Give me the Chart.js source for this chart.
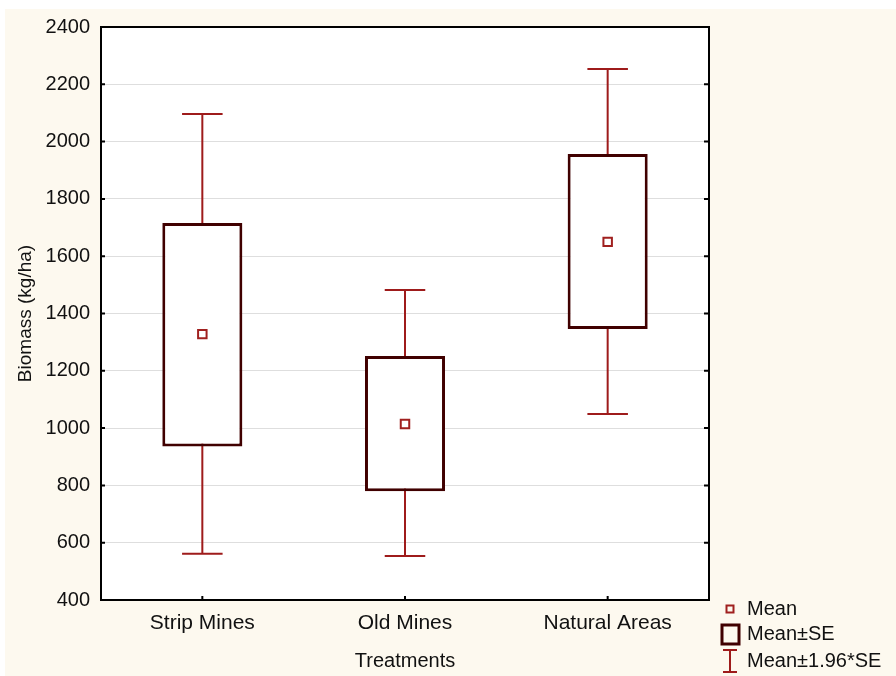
<!DOCTYPE html>
<html>
<head>
<meta charset="utf-8">
<script src="https://cdn.jsdelivr.net/npm/chart.js@4.4.1/dist/chart.umd.min.js"></script>
<style>
  body { margin: 0; background: #fff; }
  #wrap { position: absolute; left: 5px; top: 9px; width: 891px; height: 667px; background: #fdf9ef; }
</style>
</head>
<body>
<div id="wrap"><canvas id="chart"></canvas></div>
<script>
const treatments = ['Strip Mines', 'Old Mines', 'Natural Areas'];
const means = [1328, 1014, 1650];
const seLow = [936, 780, 1346];
const seHigh = [1716, 1252, 1957];
const ciLow = [561, 554, 1049];
const ciHigh = [2096, 1482, 2253];
const yTicks = [400, 600, 800, 1000, 1200, 1400, 1600, 1800, 2000, 2200, 2400];
const legendLabels = ['Mean', 'Mean±SE', 'Mean±1.96*SE'];

const FONT = '"Liberation Sans", Arial, sans-serif';
const boxColor = '#400000';
const whiskerColor = '#9e1b1b';
const meanColor = '#a0201f';

Chart.defaults.font.family = FONT;
Chart.defaults.font.size = 20;
Chart.defaults.color = '#111';

// white plot area, whiskers under the boxes
const whiskers = {
    id: 'whiskers',
    beforeDraw(chart) {
        const {ctx, chartArea: a} = chart;
        ctx.save();
        ctx.fillStyle = '#fff';
        ctx.fillRect(a.left, a.top, a.right - a.left, a.bottom - a.top);
        ctx.restore();
    },
    beforeDatasetsDraw(chart) {
        const {ctx, scales: {x, y}} = chart;
        const half = x.width / treatments.length * 0.1;
        ctx.save();
        ctx.strokeStyle = whiskerColor;
        ctx.lineWidth = 2;
        treatments.forEach((t, i) => {
            const px = x.getPixelForValue(i);
            const top = y.getPixelForValue(ciHigh[i]);
            const bot = y.getPixelForValue(ciLow[i]);
            ctx.beginPath();
            ctx.moveTo(px, top); ctx.lineTo(px, bot);
            ctx.moveTo(px - half, top); ctx.lineTo(px + half, top);
            ctx.moveTo(px - half, bot); ctx.lineTo(px + half, bot);
            ctx.stroke();
        });
        ctx.restore();
    }
};

// frame with inward ticks + legend
const frame = {
    id: 'frame',
    afterDraw(chart) {
        const {ctx, chartArea: a, scales: {x, y}} = chart;
        ctx.save();
        ctx.strokeStyle = '#000';
        ctx.lineWidth = 2;
        ctx.strokeRect(a.left, a.top, a.right - a.left, a.bottom - a.top);
        ctx.beginPath();
        yTicks.forEach(v => {
            const py = y.getPixelForValue(v);
            ctx.moveTo(a.left, py); ctx.lineTo(a.left + 4, py);
            ctx.moveTo(a.right, py); ctx.lineTo(a.right - 5, py);
        });
        treatments.forEach((t, i) => {
            const px = x.getPixelForValue(i);
            ctx.moveTo(px, a.bottom); ctx.lineTo(px, a.bottom - 4);
        });
        ctx.stroke();

        // legend
        const mx = a.right + 21, tx = a.right + 38;
        const rows = [a.bottom + 9, a.bottom + 34, a.bottom + 61];
        ctx.font = '20px ' + FONT;
        ctx.fillStyle = '#111';
        ctx.textBaseline = 'middle';
        legendLabels.forEach((t, i) => ctx.fillText(t, tx, rows[i]));

        ctx.strokeStyle = meanColor;
        ctx.lineWidth = 2;
        ctx.strokeRect(mx - 3.5, rows[0] - 3.5, 7, 7);

        ctx.strokeStyle = boxColor;
        ctx.lineWidth = 3;
        ctx.strokeRect(mx - 8, rows[1] - 9, 17, 19);

        ctx.strokeStyle = whiskerColor;
        ctx.lineWidth = 2;
        ctx.beginPath();
        ctx.moveTo(mx, rows[2] - 11); ctx.lineTo(mx, rows[2] + 11);
        ctx.moveTo(mx - 7, rows[2] - 11); ctx.lineTo(mx + 7, rows[2] - 11);
        ctx.moveTo(mx - 7, rows[2] + 11); ctx.lineTo(mx + 7, rows[2] + 11);
        ctx.stroke();
        ctx.restore();
    }
};

new Chart(document.getElementById('chart'), {
    data: {
        labels: treatments,
        datasets: [{
            type: 'line',
            label: 'Mean',
            data: means,
            showLine: false,
            pointStyle: 'rect',
            pointRadius: 6,
            pointHoverRadius: 6,
            pointBorderWidth: 2,
            pointBorderColor: meanColor,
            pointBackgroundColor: '#fff',
            order: 1
        }, {
            type: 'bar',
            label: 'Mean±SE',
            data: treatments.map((t, i) => [seLow[i], seHigh[i]]),
            backgroundColor: '#fff',
            borderColor: boxColor,
            borderWidth: 3,
            borderSkipped: false,
            barPercentage: 0.395,
            categoryPercentage: 1,
            order: 2
        }]
    },
    options: {
        responsive: true,
        maintainAspectRatio: false,
        animation: false,
        layout: { padding: { top: 18, right: 187, left: 0, bottom: 0 } },
        plugins: {
            legend: { display: false },
            tooltip: { enabled: false }
        },
        scales: {
            x: {
                grid: { display: false },
                border: { display: false },
                ticks: { padding: 3, color: '#111', font: { size: 21 } },
                title: { display: true, text: 'Treatments', color: '#111', padding: { top: 0, bottom: 3 } },
                afterFit(scale) { scale.height = 76; }
            },
            y: {
                min: 400,
                max: 2400,
                afterBuildTicks(scale) { scale.ticks = yTicks.map(v => ({ value: v })); },
                grid: { color: '#dedede', drawTicks: false },
                border: { display: false },
                ticks: { padding: 11, color: '#111', callback: v => String(v) },
                title: { display: true, text: 'Biomass (kg/ha)', color: '#111', font: { size: 19 }, padding: { top: 9, bottom: 0 } },
                afterFit(scale) {
                    scale.width = 96;
                    scale.paddingTop = 0;
                    scale.paddingBottom = 0;
                }
            }
        }
    },
    plugins: [whiskers, frame]
});
</script>
</body>
</html>
